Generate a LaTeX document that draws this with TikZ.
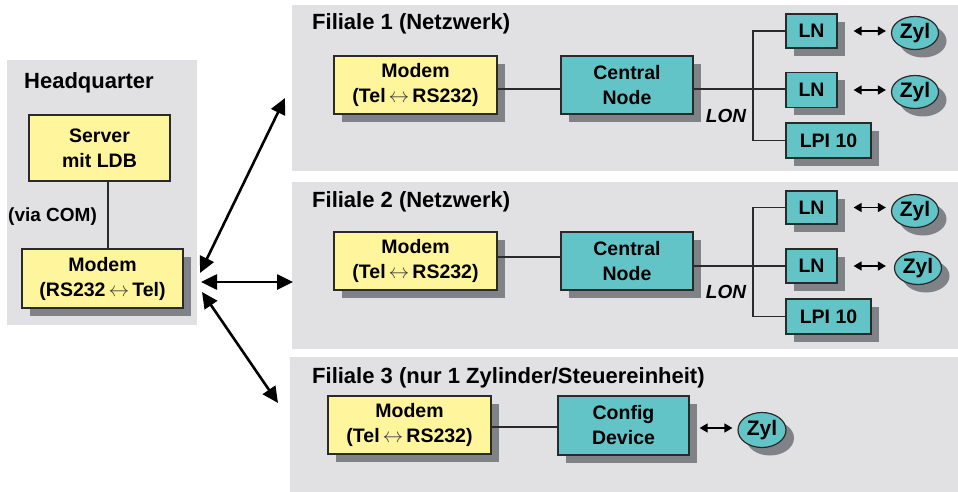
\documentclass[tikz,border=0pt]{standalone}
\usepackage{fontspec}
\setmainfont{Liberation Sans}
\usetikzlibrary{arrows.meta,shadows,shapes.geometric}

\definecolor{panelgray}{HTML}{E1E1E4}
\definecolor{modemyellow}{HTML}{FFF59C}
\definecolor{nodeteal}{HTML}{63C4C8}
\definecolor{shadegray}{HTML}{7F8388}
\definecolor{edgedark}{HTML}{2A2A2A}

\tikzset{
  panel/.style={fill=panelgray, draw=none},
  paneltitle/.style={anchor=west, inner sep=0pt, font=\bfseries\fontsize{22}{26}\selectfont},
  boxshadow/.style={drop shadow={shadow xshift=8pt, shadow yshift=-8pt, fill=shadegray, opacity=1}},
  basebox/.style={rectangle, draw=edgedark, line width=1.2pt, inner sep=0pt, align=center,
    font=\bfseries\fontsize{19.5}{25}\selectfont},
  yellowbox/.style={basebox, fill=modemyellow},
  tealbox/.style={basebox, fill=nodeteal},
  zylnode/.style={ellipse, draw=edgedark, line width=1.2pt, fill=nodeteal, inner sep=0pt,
    minimum width=47pt, minimum height=33pt, boxshadow, font=\bfseries\fontsize{21}{24}\selectfont},
  wire/.style={draw=edgedark, line width=1.2pt},
  linkarrow/.style={line width=2.6pt, {Triangle[length=16pt,width=15pt]}-{Triangle[length=16pt,width=15pt]}},
  zylarrow/.style={line width=1.4pt, {Triangle[length=8pt,width=9pt]}-{Triangle[length=8pt,width=9pt]}},
  lonlabel/.style={inner sep=0pt, font=\bfseries\itshape\fontsize{19}{22}\selectfont}
}
% thin two-way arrow used inside the modem labels
\newcommand{\lr}{\hspace{3pt}{\color{black!75}$\leftrightarrow$}\hspace{3pt}}

\begin{document}
\begin{tikzpicture}[x=1pt, y=-1pt]
\useasboundingbox (0,0) rectangle (958,492);

% ---------- background panels ----------
\fill[panel] (7,60) rectangle (197,325);
\fill[panel] (292,5) rectangle (958,171);
\fill[panel] (292,182) rectangle (958,349);
\fill[panel] (290,357) rectangle (958,492);

% ---------- Headquarter ----------
\node[paneltitle] (hqtitle) at (24,83) {Headquarter};
\node[yellowbox, minimum width=141pt, minimum height=66pt] (server) at (99.5,148) {Server\\mit LDB};
\node[yellowbox, boxshadow, minimum width=161pt, minimum height=59pt] (hqmodem) at (102.5,278.5) {Modem\\(RS232\lr Tel)};
\node[anchor=west, inner sep=0pt, font=\bfseries\fontsize{19}{22}\selectfont] (viacom) at (8,217) {(via COM)};
\draw[wire] ([xshift=8.5pt]server.south) -- ([xshift=8.5pt]server.south |- hqmodem.north);

% ---------- Filiale 1 ----------
\node[paneltitle] (f1title) at (312,24) {Filiale 1 (Netzwerk)};
\node[yellowbox, boxshadow, minimum width=163pt, minimum height=58pt] (modem1) at (415.5,85) {Modem\\(Tel\lr RS232)};
\node[tealbox, boxshadow, minimum width=132pt, minimum height=58pt] (central1) at (627,85) {Central\\Node};
\node[lonlabel] (lon1) at (726,116) {LON};
\node[tealbox, boxshadow, minimum width=51pt, minimum height=34pt] (ln1a) at (811.5,31) {LN};
\node[tealbox, boxshadow, minimum width=51pt, minimum height=35pt] (ln1b) at (811.5,90) {LN};
\node[tealbox, boxshadow, minimum width=85pt, minimum height=35pt] (lpi1) at (828.5,140.5) {LPI 10};
\node[zylnode] (zyl1a) at (915,33) {Zyl};
\node[zylnode] (zyl1b) at (915,92) {Zyl};
\coordinate (bus1) at (753,89);
\draw[wire] (modem1.east |- bus1) -- (central1.west |- bus1);
\draw[wire] (central1.east |- bus1) -- (ln1b.west |- bus1);
\draw[wire] (ln1a.west) -| (bus1) |- (lpi1.west);
\draw[zylarrow, shorten <=16pt, shorten >=5pt] (ln1a.east) -- (ln1a.east -| zyl1a.west);
\draw[zylarrow, shorten <=16pt, shorten >=5pt] (ln1b.east) -- (ln1b.east -| zyl1b.west);

% ---------- Filiale 2 ----------
\node[paneltitle] (f2title) at (312,202) {Filiale 2 (Netzwerk)};
\node[yellowbox, boxshadow, minimum width=163pt, minimum height=58pt] (modem2) at (415.5,261) {Modem\\(Tel\lr RS232)};
\node[tealbox, boxshadow, minimum width=132pt, minimum height=58pt] (central2) at (627,261) {Central\\Node};
\node[lonlabel] (lon2) at (726,292) {LON};
\node[tealbox, boxshadow, minimum width=51pt, minimum height=33pt] (ln2a) at (811.5,207.5) {LN};
\node[tealbox, boxshadow, minimum width=51pt, minimum height=34pt] (ln2b) at (811.5,266) {LN};
\node[tealbox, boxshadow, minimum width=85pt, minimum height=35pt] (lpi2) at (828.5,316.5) {LPI 10};
\node[zylnode] (zyl2a) at (915,211) {Zyl};
\node[zylnode] (zyl2b) at (918,268) {Zyl};
\coordinate (bus2) at (753,266);
\coordinate (modemwire2) at (753,257);
\draw[wire] (modem2.east |- modemwire2) -- (central2.west |- modemwire2);
\draw[wire] (central2.east |- bus2) -- (ln2b.west |- bus2);
\draw[wire] (ln2a.west) -| (bus2) |- (lpi2.west);
\draw[zylarrow, shorten <=16pt, shorten >=5pt] (ln2a.east) -- (ln2a.east -| zyl2a.west);
\draw[zylarrow, shorten <=16pt, shorten >=8pt] (ln2b.east) -- (ln2b.east -| zyl2b.west);

% ---------- Filiale 3 ----------
\node[paneltitle] (f3title) at (312,378) {Filiale 3 (nur 1 Zylinder/Steuereinheit)};
\node[yellowbox, boxshadow, minimum width=163pt, minimum height=58pt] (modem3) at (409.5,425) {Modem\\(Tel\lr RS232)};
\node[tealbox, boxshadow, minimum width=131pt, minimum height=59pt] (config) at (623.5,425.5) {Config\\Device};
\node[zylnode, minimum width=48pt, minimum height=35pt] (zyl3) at (762,430) {Zyl};
\draw[wire] (modem3.east |- 0,427) -- (config.west |- 0,427);
\draw[zylarrow, shorten <=10pt, shorten >=5pt] (config.east |- 0,428) -- (zyl3.west |- 0,428);

% ---------- dial-up links ----------
\coordinate (hq1) at (200,273);
\coordinate (hq2) at (201,282);
\coordinate (hq3) at (202,292);
\coordinate (br1) at (285,98);
\coordinate (br2) at (293,282);
\coordinate (br3) at (278,403);
\draw[linkarrow] (hq1) -- (br1);
\draw[linkarrow] (hq2) -- (br2);
\draw[linkarrow] (hq3) -- (br3);
\end{tikzpicture}
\end{document}
